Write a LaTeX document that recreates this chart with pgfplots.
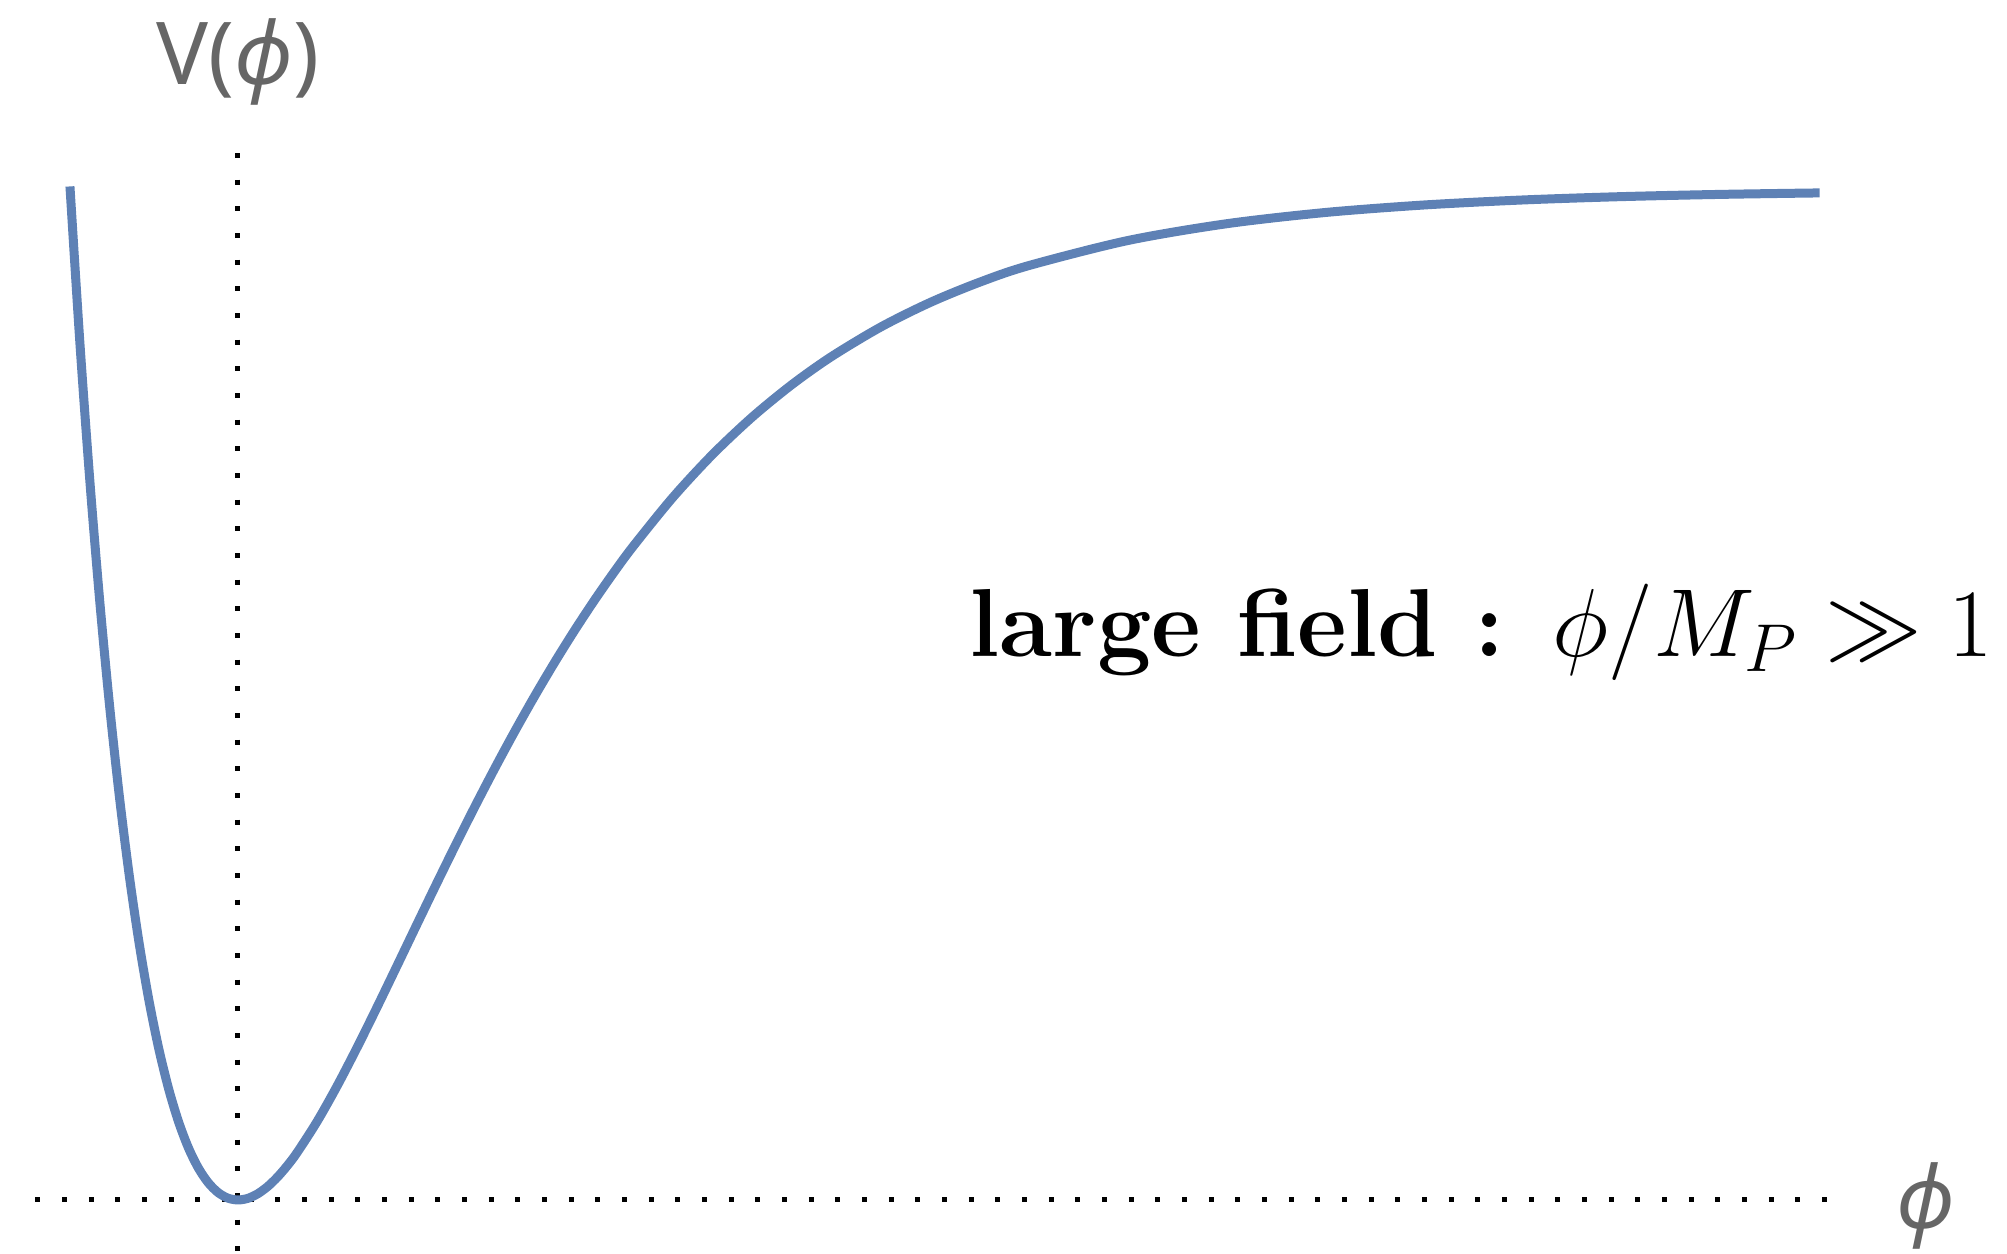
\RequirePackage{fix-cm}
\documentclass[border=0pt]{standalone}
\usepackage{fontspec}
\usepackage{pgfplots}
\pgfplotsset{compat=1.18}
\newfontfamily\labelfont{Noto Sans}
\definecolor{curveblue}{RGB}{94,129,181}
\definecolor{labelgray}{RGB}{102,102,102}

% Starobinsky-type potential V(phi) = (1 - exp(-sqrt(2/3) phi))^2, tabulated
\begin{document}
\begin{tikzpicture}
\begin{axis}[
  name=ax,
  scale only axis,
  width=602.1pt, height=376.2pt,
  xmin=-1.2038, xmax=8.9479,
  ymin=-0.05347, ymax=1.18812,
  hide axis,
]
% dotted reference lines V = 0 and phi = 0
\addplot[black, line width=1.5pt, line cap=butt, dash pattern=on 1.5pt off 6.5pt]
  coordinates {(-1.0243,0) (8.05,0)};
\addplot[black, line width=1.5pt, line cap=butt, dash pattern=on 1.5pt off 6.5pt]
  coordinates {(0,1.0366) (0,-0.07)};
% the potential
\addplot[curveblue, line width=2.7pt, line join=round, smooth, tension=0.5] coordinates {
(-0.85,1.003495) (-0.80,0.849494) (-0.75,0.713694) (-0.70,0.594458)
(-0.65,0.490225) (-0.60,0.399614) (-0.55,0.321328) (-0.50,0.254197)
(-0.45,0.197144) (-0.40,0.149186) (-0.35,0.109423) (-0.30,0.077037)
(-0.25,0.051280) (-0.20,0.031466) (-0.15,0.016975) (-0.10,0.007238)
(-0.05,0.001736) (0.00,0.000000) (0.05,0.001600) (0.10,0.006148)
(0.15,0.013288) (0.20,0.022700) (0.25,0.034091) (0.30,0.047200)
(0.40,0.077633) (0.50,0.112348) (0.60,0.150010) (0.70,0.189531)
(0.80,0.230037) (0.90,0.270838) (1.00,0.311390) (1.10,0.351264)
(1.20,0.390140) (1.30,0.427775) (1.40,0.463991) (1.50,0.498672)
(1.60,0.531740) (1.70,0.563156) (1.80,0.592906) (1.90,0.621002)
(2.00,0.647471) (2.20,0.695701) (2.40,0.738025) (2.60,0.774955)
(2.80,0.807027) (3.00,0.834778) (3.25,0.864164) (3.50,0.888498)
(3.75,0.908590) (4.00,0.925138) (4.50,0.949906) (5.00,0.966552)
(5.50,0.977702) (6.00,0.985146) (6.50,0.990113) (7.00,0.993421)
(7.50,0.995625) (8.00,0.997090)
};
% labels
\node[anchor=base, text=labelgray, font=\labelfont\fontsize{26}{30}\selectfont, inner sep=0pt]
  at (axis cs:0,1.104) {V(\textit{ϕ})};
\node[anchor=base, text=labelgray, font=\labelfont\fontsize{26}{30}\selectfont, inner sep=0pt]
  at (axis cs:8.538,-0.028) {\textit{ϕ}};
\node[anchor=base west, inner sep=0pt, font=\fontsize{29}{34}\selectfont]
  at (axis cs:3.697,0.5376) {\textbf{large field :}\enspace$\phi/M_P \gg 1$};
\end{axis}
\pgfresetboundingbox
\path (ax.south west) rectangle (ax.north east);
\end{tikzpicture}
\end{document}
